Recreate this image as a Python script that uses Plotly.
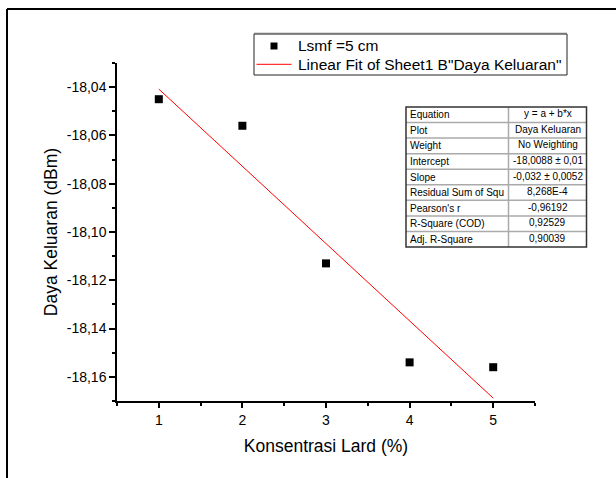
import plotly.graph_objects as go

# ---- data ----
konsentrasi = [1, 2, 3, 4, 5]
daya = [-18.045, -18.056, -18.113, -18.154, -18.156]
fit_intercept = -18.0088
fit_slope = -0.032
fit_x = [1, 5]
y_tickvals = [-18.04, -18.06, -18.08, -18.10, -18.12, -18.14, -18.16]
y_ticktext = ["-18,04", "-18,06", "-18,08", "-18,10", "-18,12", "-18,14", "-18,16"]
x_tickvals = [1, 2, 3, 4, 5]
series_name = "Lsmf =5 cm"
fit_name = 'Linear Fit of Sheet1 B"Daya Keluaran"'
table_labels = ["Equation", "Plot", "Weight", "Intercept", "Slope",
                "Residual Sum of Squ", "Pearson's r", "R-Square (COD)", "Adj. R-Square"]
table_values = ["y = a + b*x", "Daya Keluaran", "No Weighting", "-18,0088 ± 0,01",
                "-0,032 ± 0,0052", "8,268E-4", "-0,96192", "0,92529", "0,90039"]

FONT = "Arial, Liberation Sans, sans-serif"
W, H = 616, 478
L, R, T, B = 117, 81, 63, 77
pw, ph = W - L - R, H - T - B

def px_x(p):
    return (p - L) / pw

def px_y(p):
    return (H - B - p) / ph

fit_y = [fit_intercept + fit_slope * x for x in fit_x]

fig = go.Figure()
fig.add_trace(go.Scatter(x=konsentrasi, y=daya, mode="markers", name=series_name,
                         marker=dict(symbol="square", size=8, color="black"),
                         showlegend=False))
fig.add_trace(go.Scatter(x=fit_x, y=fit_y, mode="lines", name=fit_name,
                         line=dict(color="red", width=1), showlegend=False))

shapes = []
annotations = []

def pline(x0, y0, x1, y1, color, width):
    shapes.append(dict(type="line", xref="paper", yref="paper",
                       x0=px_x(x0), x1=px_x(x1), y0=px_y(y0), y1=px_y(y1),
                       line=dict(color=color, width=width)))

# outer frame
pline(7, 9, 700, 9, "black", 2)
pline(7, 9, 7, 520, "black", 2)

# legend box (custom)
shapes.append(dict(type="rect", xref="paper", yref="paper", x0=px_x(254), x1=px_x(567),
                   y0=px_y(34), y1=px_y(75), fillcolor="white",
                   line=dict(color="#222222", width=1)))
pline(254, 33.5, 567, 33.5, "#777777", 1.5)
shapes.append(dict(type="rect", xref="paper", yref="paper", x0=px_x(270.5), x1=px_x(277.5),
                   y0=px_y(42.5), y1=px_y(49.5), fillcolor="black",
                   line=dict(color="black", width=0)))
pline(256.5, 64.3, 291.5, 64.3, "red", 1)
for name, yc in [(series_name, 45.5), (fit_name, 64.5)]:
    annotations.append(dict(xref="paper", yref="paper", x=px_x(296), y=px_y(yc),
                            text=name, showarrow=False, xanchor="left", yanchor="middle",
                            font=dict(family=FONT, size=15.5, color="black")))

# stats table
tl, tr, tt, tb, tdiv = 406, 586.5, 107, 247, 508.5
n = len(table_labels)
rh = (tb - tt) / n
for i in range(1, n):
    yy = tt + i * rh
    pline(tl, yy, tr, yy, "#aaaaaa", 1.5)
pline(tdiv, tt, tdiv, tb, "#aaaaaa", 1.5)
shapes.append(dict(type="rect", xref="paper", yref="paper", x0=px_x(tl), x1=px_x(tr),
                   y0=px_y(tt), y1=px_y(tb), line=dict(color="#333333", width=1.5)))

for i, (lab, val) in enumerate(zip(table_labels, table_values)):
    yc = tt + (i + 0.5) * rh
    annotations.append(dict(xref="paper", yref="paper", x=px_x(tl + 2), y=px_y(yc),
                            text=lab, showarrow=False, xanchor="left", yanchor="middle",
                            font=dict(family=FONT, size=10, color="black")))
    annotations.append(dict(xref="paper", yref="paper", x=px_x((tdiv + tr) / 2), y=px_y(yc - 1),
                            text=val, showarrow=False, xanchor="center", yanchor="middle",
                            font=dict(family=FONT, size=10, color="black")))

fig.update_layout(
    width=W, height=H,
    margin=dict(l=L, r=R, t=T, b=B),
    paper_bgcolor="white", plot_bgcolor="white",
    font=dict(family=FONT, color="black"),
    showlegend=False,
    shapes=shapes,
    annotations=annotations,
)

fig.update_xaxes(range=[0.5, 5.5], tickmode="array", tickvals=x_tickvals,
                 ticks="outside", ticklen=5, tickwidth=1.5, tickcolor="black",
                 showline=True, linecolor="black", linewidth=1.5,
                 showgrid=False, zeroline=False,
                 tickfont=dict(family=FONT, size=14, color="black"),
                 minor=dict(tickmode="linear", tick0=0.5, dtick=0.5, ticks="outside",
                            ticklen=3, tickwidth=1.5, tickcolor="black", showgrid=False),
                 title=dict(text="Konsentrasi Lard (%)", standoff=13,
                            font=dict(family=FONT, size=17.5, color="black")))
fig.update_yaxes(range=[-18.17, -18.03], tickmode="array", tickvals=y_tickvals,
                 ticktext=y_ticktext,
                 ticks="outside", ticklen=6, tickwidth=1.5, tickcolor="black",
                 showline=True, linecolor="black", linewidth=1.5,
                 showgrid=False, zeroline=False,
                 tickfont=dict(family=FONT, size=14, color="black"),
                 minor=dict(tickmode="linear", tick0=-18.04, dtick=0.01, ticks="outside",
                            ticklen=3, tickwidth=1.5, tickcolor="black", showgrid=False),
                 title=dict(text="Daya Keluaran (dBm)", standoff=5,
                            font=dict(family=FONT, size=17.5, color="black")))

fig.write_html("out.html", config={"displayModeBar": False},
               post_script="document.body.style.margin='0';document.body.style.overflow='hidden';")
